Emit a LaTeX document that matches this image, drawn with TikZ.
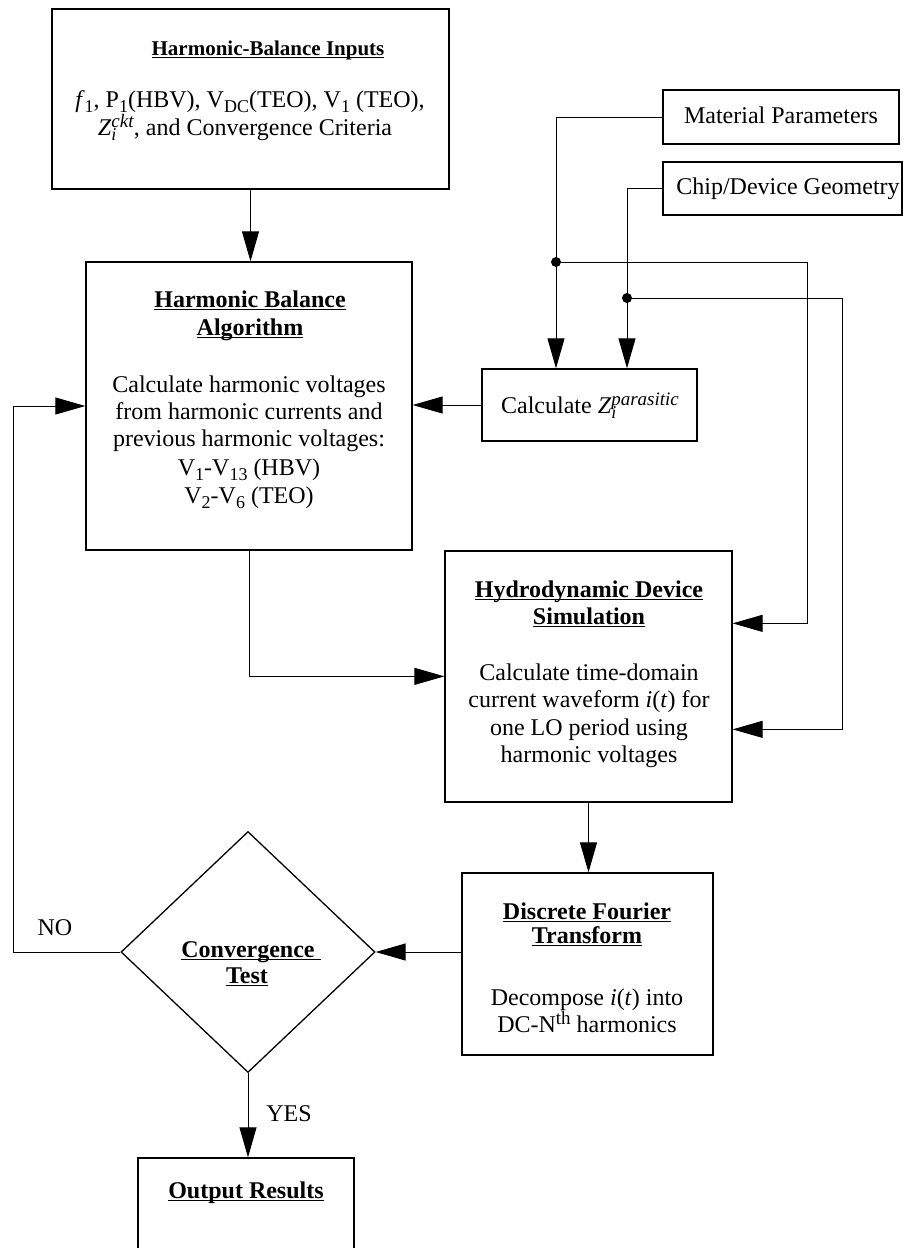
\documentclass[tikz,border=0pt]{standalone}
\usepackage{fontspec}
\setmainfont{Liberation Serif}
\usetikzlibrary{arrows.meta,shapes.geometric,calc}
\newcommand\mysup[1]{\raisebox{8pt}{\fontsize{19}{19}\selectfont #1}}
\newcommand\mysub[1]{\raisebox{-5pt}{\fontsize{18}{18}\selectfont #1}}
\newcommand\myul[1]{\setbox0\hbox{#1}\rlap{\rule[-3pt]{\wd0}{1.2pt}}\box0}
\begin{document}
\begin{tikzpicture}[x=1pt,y=-1pt,
  box/.style={draw,line width=1.3pt,inner sep=0pt},
  txt/.style={anchor=base,inner sep=0pt,font=\fontsize{24}{27}\selectfont},
  arr/.style={line width=1pt,-{Triangle[length=30pt,width=17pt]}},
  conn/.style={line width=1pt},
  dotn/.style={circle,fill,inner sep=0pt,minimum size=10pt}]
\clip (0,0) rectangle (904,1248);
% boxes
\node[box,minimum width=397pt,minimum height=180pt] (inp) at (250.5,99) {};
\node[box,minimum width=326pt,minimum height=288pt] (hb) at (249,406) {};
\node[box,minimum width=215pt,minimum height=72pt] (calc) at (589.5,405) {};
\node[box,minimum width=236pt,minimum height=54pt] (mat) at (781,117) {};
\node[box,minimum width=239pt,minimum height=53pt] (chip) at (782.5,188.5) {};
\node[box,minimum width=287pt,minimum height=251pt] (hydro) at (588.5,676.5) {};
\node[box,minimum width=251pt,minimum height=182pt] (dft) at (587.5,964) {};
\node[box,diamond,minimum width=254pt,minimum height=241pt] (conv) at (248,952) {};
\node[box,minimum width=216pt,minimum height=112pt] (out) at (246,1214) {};
% texts
\node[txt,font=\fontsize{21}{24}\selectfont] (inT) at (268,55) {\textbf{\myul{Harmonic-Balance Inputs}}};
\node[txt] (inB1) at (250,107) {\textit{f}\mysub{1}, P\mysub{1}(HBV), V\mysub{DC}(TEO), V\mysub{1} (TEO),};
\node[txt] (inB2) at (245,135) {\textit{Z}\rlap{\mysub{\textit{i}}}\mysup{\textit{ckt}}, and Convergence Criteria};
\node[txt] (hbT1) at (250,307) {\textbf{\myul{Harmonic Balance}}};
\node[txt] (hbT2) at (250,335) {\textbf{\myul{Algorithm}}};
\node[txt] (hbB1) at (249,392) {Calculate harmonic voltages};
\node[txt] (hbB2) at (249,419) {from harmonic currents and};
\node[txt] (hbB3) at (249,446) {previous harmonic voltages:};
\node[txt] (hbB4) at (249,475) {V\mysub{1}-V\mysub{13} (HBV)};
\node[txt] (hbB5) at (249,503) {V\mysub{2}-V\mysub{6} (TEO)};
\node[txt] (calcT) at (590,413) {Calculate \textit{Z}\rlap{\mysub{\textit{i}}}\mysup{\textit{parasitic}}};
\node[txt] (matT) at (781,123) {Material Parameters};
\node[txt] (chipT) at (788,194) {Chip/Device Geometry};
\node[txt] (hyT1) at (589,597) {\textbf{\myul{Hydrodynamic Device}}};
\node[txt] (hyT2) at (589,624) {\textbf{\myul{Simulation}}};
\node[txt] (hyB1) at (589,680) {Calculate time-domain};
\node[txt] (hyB2) at (589,707) {current waveform \textit{i}(\textit{t}) for};
\node[txt] (hyB3) at (589,735) {one LO period using};
\node[txt] (hyB4) at (589,762) {harmonic voltages};
\node[txt] (dfT1) at (587,919) {\textbf{\myul{Discrete Fourier}}};
\node[txt] (dfT2) at (587,943) {\textbf{\myul{Transform}}};
\node[txt] (dfB1) at (587,1005) {Decompose \textit{i}(\textit{t}) into};
\node[txt] (dfB2) at (587,1032) {DC-N\mysup{th} harmonics};
\node[txt] (cvT1) at (251,957) {\textbf{\myul{Convergence\ }}};
\node[txt] (cvT2) at (247,983) {\textbf{\myul{Test}}};
\node[txt] (no) at (55,935) {NO};
\node[txt] (yes) at (289,1121) {YES};
\node[txt] (outT) at (246,1198) {\textbf{\myul{Output Results}}};
% junction dots
\node[dotn] (dm) at (556,262) {};
\node[dotn] (dc) at (627,298) {};
% connectors
\draw[arr] (inp.south) -- (inp.south |- hb.north);
\draw[arr] (mat.west) -| (dm |- calc.north);
\draw[arr] (chip.west) -| (dc |- calc.north);
\draw[arr] (dm) -| ($(hydro.north east)+(75,73)$) -- ($(hydro.north east)+(0,73)$);
\draw[arr] (dc) -| ($(hydro.north east)+(110,179)$) -- ($(hydro.north east)+(0,179)$);
\draw[arr] (calc.west) -- (calc.west -| hb.east);
\draw[arr] (hb.south) |- ($(hydro.north west)+(0,126)$);
\draw[arr] (hydro.south) -- (hydro.south |- dft.north);
\draw[arr] (conv.east -| dft.west) -- (conv.east);
\draw[arr] (conv.south) -- (conv.south |- out.north);
\draw[arr] (conv.west) -- ++(-107,0) |- (hb.west);
\end{tikzpicture}
\end{document}
